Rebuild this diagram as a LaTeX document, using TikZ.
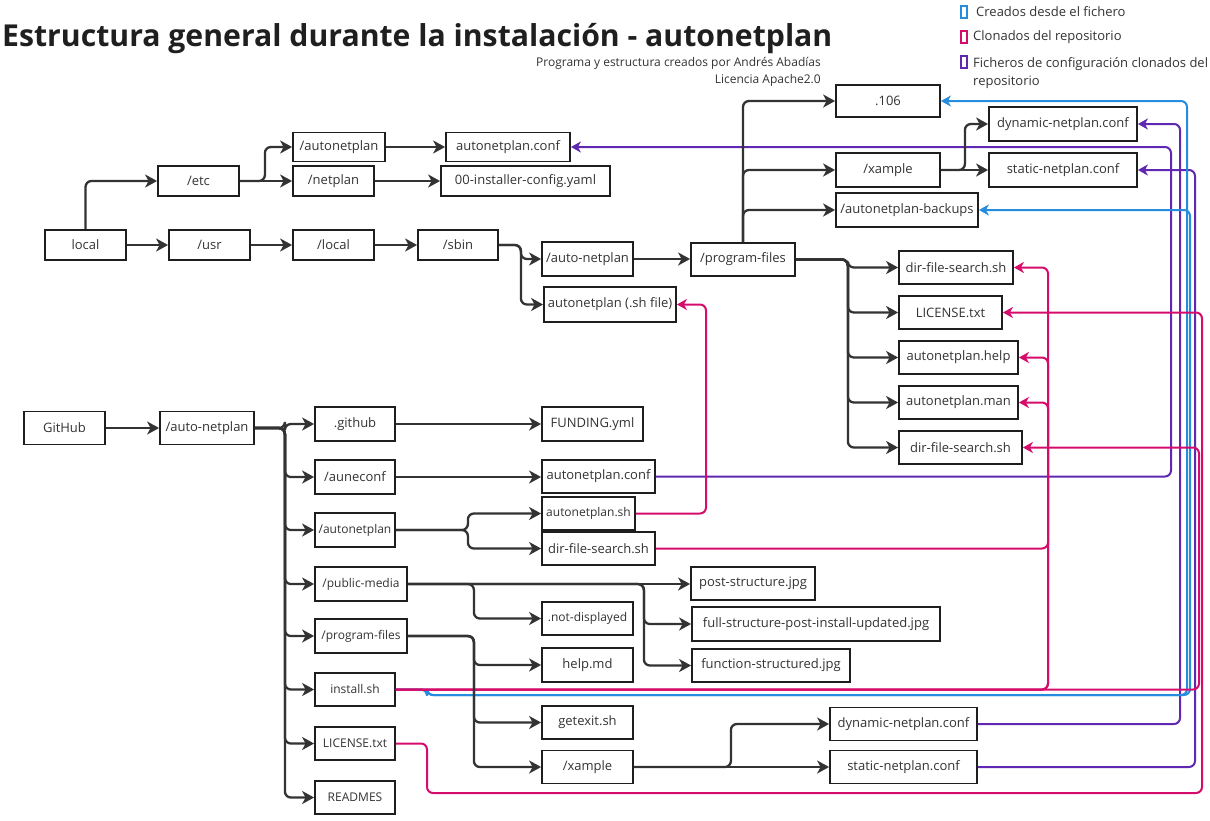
\documentclass[tikz,border=0pt]{standalone}
\usepackage{fontspec}
\setmainfont{Open Sans}
\usetikzlibrary{arrows.meta}
\definecolor{ink}{HTML}{333333}
\definecolor{bord}{HTML}{1E1E1E}
\definecolor{cblue}{RGB}{38,140,222}
\definecolor{cpink}{RGB}{214,12,108}
\definecolor{cpurp}{RGB}{96,40,178}
\tikzset{
  box/.style={draw=bord, line width=1.8pt, fill=white, inner sep=0pt, text=ink,
    font=\fontsize{13}{15}\selectfont},
  sm/.style={font=\fontsize{12}{14}\selectfont},
  link/.style={draw=ink, line width=2.3pt, rounded corners=6pt,
    -{Stealth[length=12pt,width=13pt,inset=3.5pt]}},
  clink/.style={line width=2pt, rounded corners=6pt,
    -{Stealth[length=10pt,width=11pt,inset=3pt]}},
  swatch/.style={line width=2pt, fill=white, minimum width=6pt, minimum height=12pt, inner sep=0pt},
  legtext/.style={text=ink, font=\fontsize{13}{18}\selectfont, inner sep=0pt},
}
\begin{document}
\begin{tikzpicture}[x=1pt,y=-1pt]
\useasboundingbox (0,0) rectangle (1210,820);
\fill[white] (0,0) rectangle (1210,820);

% ---------- title, credits, legend ----------
\node[anchor=base west, inner sep=0pt, text=black!88,
  font=\fontsize{30.2}{36}\selectfont\bfseries] (title) at (2,46)
  {Estructura general durante la instalación - autonetplan};
\node[anchor=north east, align=right, inner sep=0pt, text=ink,
  font=\fontsize{12}{17}\selectfont] (credits) at (821,57)
  {Programa y estructura creados por Andrés Abadías\\Licencia Apache2.0};

\node[swatch, draw=cblue] (lgb) at (964,12) {};
\node[swatch, draw=cpink] (lgp) at (964,37) {};
\node[swatch, draw=cpurp] (lgu) at (964,62) {};
\node[legtext, anchor=west] (lgbt) at (976,12) {Creados desde el fichero};
\node[legtext, anchor=west] (lgpt) at (973,37) {Clonados del repositorio};
\node[legtext, anchor=north west, align=left] (lgut) at (973,57)
  {Ficheros de configuración clonados del\\repositorio};

% ---------- top tree (installed system) ----------
\node[box, minimum width=81pt, minimum height=30pt] (local) at (85.5,245) {local};
\node[box, minimum width=81pt, minimum height=30pt] (usr) at (209.5,245) {/usr};
\node[box, minimum width=81pt, minimum height=30pt] (loc) at (333.5,245) {/local};
\node[box, minimum width=80pt, minimum height=30pt] (sbin) at (458,245) {/sbin};
\node[box, minimum width=81pt, minimum height=30pt] (etc) at (198.5,181) {/etc};
\node[box, minimum width=92pt, minimum height=29pt] (tautonetplan) at (339,147) {/autonetplan};
\node[box, minimum width=81pt, minimum height=30pt] (tnetplan) at (333.5,181) {/netplan};
\node[box, minimum width=124pt, minimum height=29pt] (tconf) at (508,147) {autonetplan.conf};
\node[box, minimum width=169pt, minimum height=30pt] (tyaml) at (525.5,181) {00-installer-config.yaml};
\node[box, minimum width=91pt, minimum height=34pt] (tautonet) at (587.5,259) {/auto-netplan};
\node[box, minimum width=132pt, minimum height=35pt] (tsh) at (610,304.5) {autonetplan (.sh file)};
\node[box, minimum width=104pt, minimum height=33pt] (tpf) at (743,259.5) {/program-files};
\node[box, minimum width=104pt, minimum height=32pt] (t106) at (888,101) {.106};
\node[box, minimum width=104pt, minimum height=34pt] (txample) at (888,170) {/xample};
\node[box, minimum width=142pt, minimum height=34pt] (tback) at (907,210) {/autonetplan-backups};
\node[box, minimum width=148pt, minimum height=34pt] (tdyn) at (1063,124) {dynamic-netplan.conf};
\node[box, minimum width=148pt, minimum height=34pt] (tstat) at (1063,170) {static-netplan.conf};
\node[box, minimum width=114pt, minimum height=33pt] (tdfs) at (956,267.5) {dir-file-search.sh};
\node[box, minimum width=103pt, minimum height=33pt] (tlic) at (950.5,312.5) {LICENSE.txt};
\node[box, minimum width=119pt, minimum height=33pt] (thelp) at (958.5,357.5) {autonetplan.help};
\node[box, minimum width=119pt, minimum height=33pt] (tman) at (958.5,402.5) {autonetplan.man};
\node[box, minimum width=123pt, minimum height=33pt] (tdfs2) at (960.5,447.5) {dir-file-search.sh};

% ---------- bottom tree (GitHub repository) ----------
\node[box, minimum width=81pt, minimum height=33pt] (github) at (64.5,428) {GitHub};
\node[box, minimum width=94pt, minimum height=33pt] (bauto) at (207,428) {/auto-netplan};
\node[box, minimum width=80pt, minimum height=34pt] (bgithub) at (355,424) {.github};
\node[box, minimum width=80pt, minimum height=34pt] (baune) at (355,477) {/auneconf};
\node[box, sm, minimum width=80pt, minimum height=34pt] (bautonetplan) at (355,530) {/autonetplan};
\node[box, sm, minimum width=92pt, minimum height=34pt] (bpublic) at (361,584) {/public-media};
\node[box, sm, minimum width=92pt, minimum height=34pt] (bpf) at (361,636) {/program-files};
\node[box, sm, minimum width=80pt, minimum height=33pt] (binstall) at (355,689.5) {install.sh};
\node[box, sm, minimum width=80pt, minimum height=33pt] (blic) at (355,743.5) {LICENSE.txt};
\node[box, sm, minimum width=80pt, minimum height=33pt] (breadmes) at (355,797.5) {READMES};
\node[box, minimum width=101pt, minimum height=34pt] (bfund) at (592.5,424) {FUNDING.yml};
\node[box, minimum width=113pt, minimum height=33pt] (bconf) at (598.5,476.5) {autonetplan.conf};
\node[box, sm, minimum width=93pt, minimum height=33pt] (bsh) at (588.5,513.5) {autonetplan.sh};
\node[box, minimum width=113pt, minimum height=33pt] (bdfs) at (598.5,548.5) {dir-file-search.sh};
\node[box, sm, minimum width=91pt, minimum height=33pt] (bnot) at (587.5,618.5) {.not-displayed};
\node[box, minimum width=91pt, minimum height=34pt] (bhelp) at (587.5,665) {help.md};
\node[box, minimum width=91pt, minimum height=33pt] (bgetexit) at (587.5,722.5) {getexit.sh};
\node[box, minimum width=91pt, minimum height=33pt] (bxample) at (587.5,767) {/xample};
\node[box, minimum width=124pt, minimum height=33pt] (bpost) at (753,583.5) {post-structure.jpg};
\node[box, minimum width=248pt, minimum height=34pt] (bfull) at (816,624) {full-structure-post-install-updated.jpg};
\node[box, minimum width=158pt, minimum height=33pt] (bfunc) at (771,665.5) {function-structured.jpg};
\node[box, minimum width=147pt, minimum height=33pt] (bdyn) at (903.5,724) {dynamic-netplan.conf};
\node[box, minimum width=147pt, minimum height=33pt] (bstat) at (903.5,767) {static-netplan.conf};

% ---------- routing coordinates for the coloured links ----------
\coordinate (xS) at (427,0);
\coordinate (xP1) at (706,0);
\coordinate (xP2) at (1048,0);
\coordinate (xP3) at (1199,0);
\coordinate (xP4) at (1202,0);
\coordinate (xU1) at (1171,0);
\coordinate (xU2) at (1180,0);
\coordinate (xU3) at (1195,0);
\coordinate (xB1) at (1187,0);
\coordinate (xB2) at (1190,0);
\coordinate (yB) at (0,695);
\coordinate (yL) at (0,793);

% ---------- coloured links ----------
\draw[clink, cpurp] (bconf.east) -- (bconf.east -| xU1) -- (tconf.east -| xU1) -- (tconf.east);
\draw[clink, cpurp] (bdyn.east) -- (bdyn.east -| xU2) -- (tdyn.east -| xU2) -- (tdyn.east);
\draw[clink, cpurp] (bstat.east) -- (bstat.east -| xU3) -- (tstat.east -| xU3) -- (tstat.east);

\draw[clink, cblue] (binstall.east) -- (binstall.east -| xS) -- (xS |- yB) -- (xB1 |- yB) -- (t106.east -| xB1) -- (t106.east);
\draw[clink, cblue] (binstall.east) -- (binstall.east -| xS) -- (xS |- yB) -- (xB2 |- yB) -- (tback.east -| xB2) -- (tback.east);

\draw[clink, cpink] (bsh.east) -- (bsh.east -| xP1) -- (tsh.east -| xP1) -- (tsh.east);
\draw[clink, cpink] (bdfs.east) -- (bdfs.east -| xP2) -- (tdfs.east -| xP2) -- (tdfs.east);
\draw[clink, cpink] (binstall.east) -- (binstall.east -| xP2) -- (thelp.east -| xP2) -- (thelp.east);
\draw[clink, cpink] (binstall.east) -- (binstall.east -| xP2) -- (tman.east -| xP2) -- (tman.east);
\draw[clink, cpink] (binstall.east) -- (binstall.east -| xP3) -- (tdfs2.east -| xP3) -- (tdfs2.east);
\draw[clink, cpink] (blic.east) -- (blic.east -| xS) -- (xS |- yL) -- (xP4 |- yL) -- (tlic.east -| xP4) -- (tlic.east);

% ---------- black links, top ----------
\draw[link] (local.north) |- (etc.west);
\draw[link] (local) -- (usr);
\draw[link] (usr) -- (loc);
\draw[link] (loc) -- (sbin);
\draw[link] (etc.east) -- ++(25,0) |- (tautonetplan.west);
\draw[link] (etc) -- (tnetplan);
\draw[link] (tautonetplan) -- (tconf);
\draw[link] (tnetplan) -- (tyaml);
\draw[link] (sbin.east) -- ++(22,0) |- (tautonet.west);
\draw[link] (sbin.east) -- ++(22,0) |- (tsh.west);
\draw[link] (tautonet.east) -- (tpf.west |- tautonet.east);
\draw[link] (tpf.north) |- (t106.west);
\draw[link] (tpf.north) |- (txample.west);
\draw[link] (tpf.north) |- (tback.west);
\draw[link] (txample.east) -- ++(24,0) |- (tdyn.west);
\draw[link] (txample) -- (tstat);
\foreach \c in {tdfs,tlic,thelp,tman,tdfs2}
  \draw[link] (tpf.east) -- ++(52,0) |- (\c.west);

% ---------- black links, bottom ----------
\draw[link] (github) -- (bauto);
\foreach \c in {bgithub,baune,bautonetplan,bpublic,bpf,binstall,blic,breadmes}
  \draw[link] (bauto.east) -- ++(30,0) |- (\c.west);
\draw[link] (bgithub.east) -- (bfund.west |- bgithub.east);
\draw[link] (baune.east) -- (bconf.west |- baune.east);
\draw[link] (bautonetplan.east) -- ++(72,0) |- (bsh.west);
\draw[link] (bautonetplan.east) -- ++(72,0) |- (bdfs.west);
\draw[link] (bpublic.east) -- (bpost.west |- bpublic.east);
\draw[link] (bpublic.east) -- ++(66,0) |- (bnot.west);
\draw[link] (bpublic.east) -- ++(236,0) |- (bfull.west);
\draw[link] (bpublic.east) -- ++(236,0) |- (bfunc.west);
\draw[link] (bpf.east) -- ++(66,0) |- (bhelp.west);
\draw[link] (bpf.east) -- ++(66,0) |- (bgetexit.west);
\draw[link] (bpf.east) -- ++(66,0) |- (bxample.west);
\draw[link] (bxample.east) -- ++(97,0) |- (bdyn.west);
\draw[link] (bxample.east) -- (bstat.west |- bxample.east);
\end{tikzpicture}
\end{document}
